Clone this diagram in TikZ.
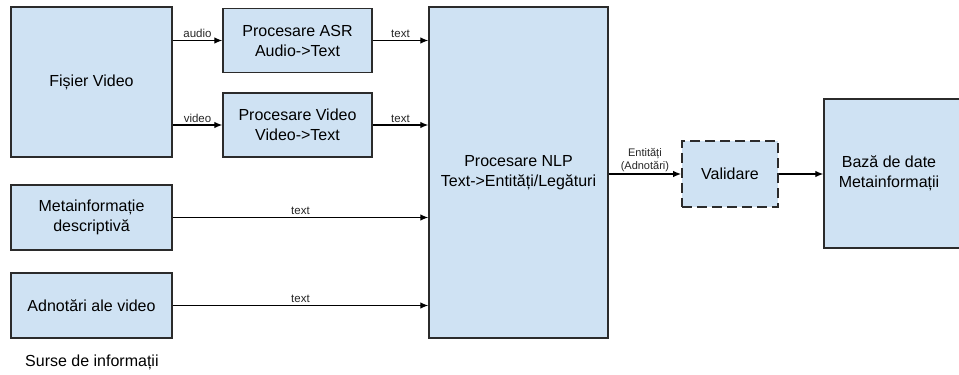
\documentclass[tikz,border=0pt]{standalone}
\usepackage{fontspec}
\setmainfont{Liberation Sans}
\usetikzlibrary{arrows.meta}
\definecolor{boxfill}{HTML}{CFE2F3}
\definecolor{boxline}{HTML}{2B2B2B}
\tikzset{
  block/.style={draw=boxline, line width=1.4pt, fill=boxfill, rectangle,
    inner sep=0pt, align=center, font=\fontsize{16}{20}\selectfont},
  flow/.style={draw=black, line width=1.2pt, -{Latex[length=8pt,width=6.5pt]}},
  tag/.style={font=\fontsize{11.5}{13}\selectfont, inner sep=2pt, text=black!85},
  caption/.style={font=\fontsize{16}{20}\selectfont, anchor=west, inner sep=0pt}
}
\begin{document}
\begin{tikzpicture}[x=1pt, y=-1pt]
  \useasboundingbox (0,0) rectangle (959,375);

  % information sources
  \node[block, minimum width=161pt, minimum height=150pt] (fv) at (91.5,82) {Fișier Video};
  \node[block, minimum width=161pt, minimum height=65pt] (meta) at (91.5,217.5) {Metainformație\\descriptivă};
  \node[block, minimum width=161pt, minimum height=65pt] (adn) at (91.5,305.5) {Adnotări ale video};
  \node[caption] (src) at (25,362) {Surse de informații};

  % media processing
  \node[block, minimum width=149pt, minimum height=64pt] (asr) at (297.5,40.5) {Procesare ASR\\Audio->Text};
  \node[block, minimum width=149pt, minimum height=64pt] (pv) at (297.5,125) {Procesare Video\\Video->Text};

  % NLP, validation, database
  \node[block, minimum width=179pt, minimum height=331pt] (nlp) at (518.5,172.5) {Procesare NLP\\Text->Entități/Legături};
  \node[block, dashed, dash pattern=on 10pt off 5pt, line width=1.8pt,
        minimum width=96pt, minimum height=66pt] (val) at (730,174) {Validare};
  \node[block, minimum width=151pt, minimum height=149pt] (db) at (899.5,173.5) {};
  \node[font=\fontsize{16}{20}\selectfont, align=center, inner sep=0pt] (dbtext) at (889,173.5) {Bază de date\\Metainformații};

  % connectors
  \draw[flow] (fv.east |- asr.west) -- node[tag, above] {audio} (asr.west);
  \draw[flow] (fv.east |- pv.west) -- node[tag, above] {video} (pv.west);
  \draw[flow] (asr.east) -- node[tag, above] {text} (asr.east -| nlp.west);
  \draw[flow] (pv.east) -- node[tag, above] {text} (pv.east -| nlp.west);
  \draw[flow] (meta.east) -- node[tag, above] {text} (meta.east -| nlp.west);
  \draw[flow] (adn.east) -- node[tag, above] {text} (adn.east -| nlp.west);
  \draw[flow] (nlp.east |- val.west) -- node[tag, above, align=center, font=\fontsize{11}{13}\selectfont] {Entități\\(Adnotări)} (val.west);
  \draw[flow] (val.east) -- (val.east -| db.west);
\end{tikzpicture}
\end{document}
